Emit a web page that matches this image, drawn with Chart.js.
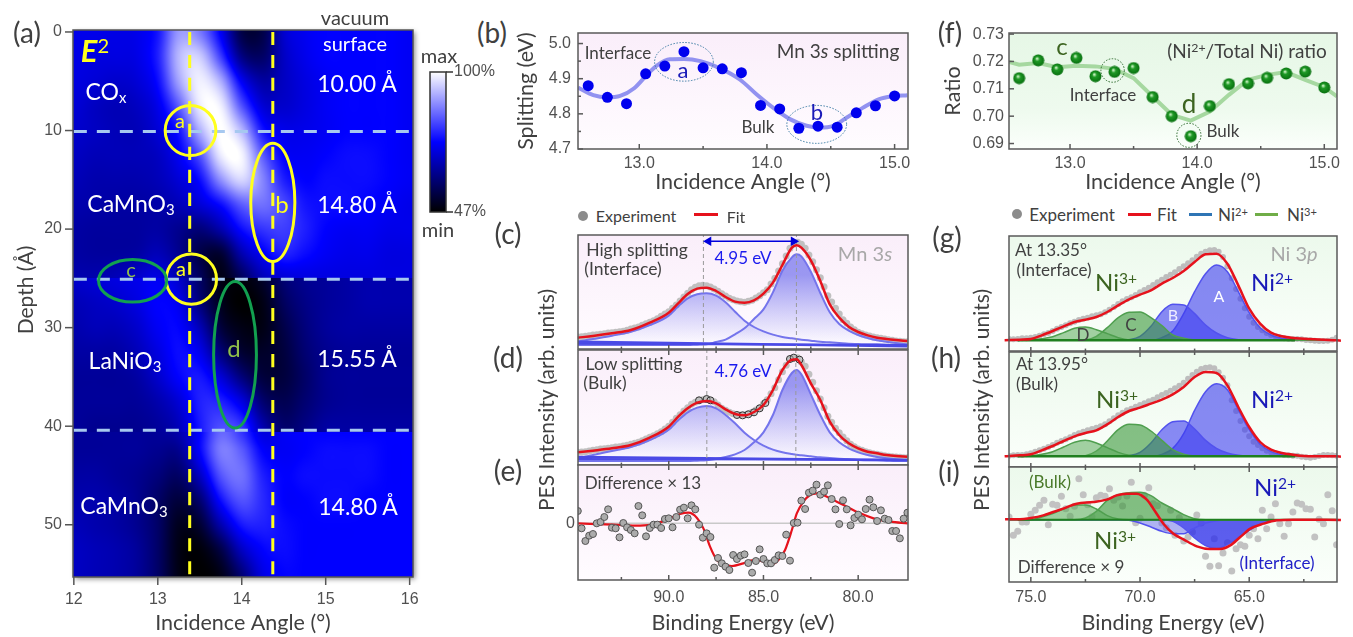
<!DOCTYPE html>
<html>
<head>
<meta charset="utf-8">
<title>E2 depth map and PES spectra</title>
<script src="https://cdn.jsdelivr.net/npm/chart.js@4"></script>
<style>
  html, body { margin: 0; background: #fff; }
  #stage { position: relative; width: 1353px; height: 637px; overflow: hidden; }
  #stage canvas { position: absolute; }
  .lbl { position: absolute; white-space: nowrap; line-height: 1; font-family: Lato, sans-serif; z-index: 5; }
  .lbl sup { font-size: .65em; vertical-align: .42em; line-height: 0; }
  .lbl sub { font-size: .65em; vertical-align: -.25em; line-height: 0; }
  .mark { position: absolute; z-index: 5; }
</style>
</head>
<body>
<div id="stage"></div>
<script>
// ---- panel (a), colour level 0 (black) .. 50 (blue) .. 100 (white) ----
var heatAngles = [12, 12.25, 12.5, 12.75, 13, 13.25, 13.5, 13.75, 14, 14.25, 14.5, 14.75, 15, 15.25, 15.5, 15.75, 16];
var depthsUpper = [0, 2.5, 5, 7.5, 10, 12.5, 15, 17.5, 20, 22.5, 25];
var heatUpper = [
  [46, 46, 45, 46, 54, 80, 74, 48, 14, 14, 40, 47, 50, 50, 50, 50, 48],
  [45, 44, 44, 45, 56, 86, 90, 62, 26, 20, 38, 46, 50, 50, 50, 50, 48],
  [44, 42, 40, 42, 52, 82, 97, 84, 48, 32, 38, 44, 48, 50, 50, 50, 48],
  [42, 38, 36, 38, 46, 68, 96, 97, 66, 42, 40, 44, 48, 50, 50, 50, 48],
  [40, 38, 36, 36, 42, 54, 84, 100, 86, 54, 46, 46, 48, 50, 50, 50, 48],
  [38, 36, 36, 36, 38, 48, 66, 96, 98, 68, 50, 48, 50, 52, 52, 50, 48],
  [36, 34, 34, 34, 36, 42, 52, 78, 92, 76, 56, 50, 52, 52, 52, 50, 48],
  [34, 33, 32, 32, 33, 36, 42, 52, 68, 72, 64, 54, 52, 52, 50, 48, 46],
  [32, 31, 31, 31, 32, 28, 24, 34, 52, 60, 62, 56, 50, 48, 48, 46, 46],
  [32, 31, 31, 32, 36, 28, 14, 10, 34, 48, 56, 52, 48, 46, 46, 44, 44],
  [34, 34, 36, 40, 44, 34, 18, 4, 18, 36, 42, 44, 44, 44, 44, 44, 44]
];
var depthsMiddle = [25, 27.5, 30, 32.5, 35, 37.5, 40.6];
var heatMiddle = [
  [40, 42, 44, 46, 48, 40, 20, 4, 2, 8, 22, 28, 30, 32, 34, 34, 34],
  [36, 38, 40, 44, 50, 46, 24, 6, 0, 4, 18, 26, 30, 32, 34, 34, 34],
  [34, 36, 36, 40, 48, 50, 36, 12, 4, 4, 14, 24, 30, 32, 32, 32, 32],
  [32, 32, 32, 36, 44, 52, 46, 24, 10, 8, 12, 22, 28, 30, 30, 30, 30],
  [30, 30, 30, 32, 40, 50, 54, 42, 24, 12, 12, 20, 28, 30, 30, 30, 30],
  [30, 30, 30, 30, 34, 42, 56, 56, 44, 22, 16, 22, 28, 30, 30, 30, 30],
  [30, 28, 28, 28, 30, 36, 54, 66, 62, 36, 22, 26, 32, 32, 32, 32, 32]
];
var depthsLower = [40.6, 42.5, 45, 47.5, 50, 52.5, 55.4];
var heatLower = [
  [30, 30, 30, 30, 30, 34, 50, 70, 60, 44, 48, 50, 50, 50, 50, 50, 50],
  [30, 30, 30, 30, 28, 28, 50, 74, 68, 50, 48, 50, 52, 52, 52, 50, 50],
  [32, 32, 30, 28, 24, 20, 38, 66, 72, 56, 50, 52, 52, 52, 52, 50, 50],
  [34, 34, 32, 28, 20, 12, 22, 52, 66, 58, 50, 50, 52, 52, 50, 50, 50],
  [36, 34, 32, 28, 20, 6, 10, 34, 54, 56, 52, 50, 50, 50, 50, 50, 50],
  [38, 36, 34, 30, 20, 4, 2, 14, 38, 50, 52, 50, 50, 50, 50, 50, 50],
  [38, 36, 34, 30, 20, 4, 0, 4, 22, 44, 50, 50, 50, 50, 50, 50, 50]
];
var guideAngles = [13.38, 14.37];
var layerDepths = [10.09, 25.1, 40.4];

// ---- panels (b) and (f) ----
var scanAngles = [12.6, 12.75, 12.9, 13.05, 13.2, 13.35, 13.5, 13.65, 13.8, 13.95, 14.1, 14.25, 14.4, 14.55, 14.7, 14.85, 15];
var mnSplitting = [4.88, 4.847, 4.829, 4.914, 4.936, 4.977, 4.931, 4.928, 4.917, 4.824, 4.814, 4.759, 4.765, 4.762, 4.803, 4.823, 4.851];
var mnFitAngles = [12.52, 12.64, 12.75, 12.85, 12.96, 13.06, 13.14, 13.24, 13.35, 13.48, 13.63, 13.79, 13.92, 14.05, 14.18, 14.31, 14.41, 14.52, 14.62, 14.75, 14.88, 14.99, 15.1];
var mnFit = [4.875, 4.853, 4.847, 4.851, 4.873, 4.911, 4.938, 4.955, 4.956, 4.95, 4.93, 4.897, 4.855, 4.817, 4.785, 4.766, 4.761, 4.766, 4.788, 4.817, 4.842, 4.85, 4.853];
var niRatio = [0.7139, 0.7204, 0.7171, 0.7213, 0.7146, 0.7162, 0.7176, 0.707, 0.7, 0.6927, 0.7037, 0.7117, 0.712, 0.714, 0.7156, 0.7163, 0.7105];
var niFitAngles = [12.52, 12.6, 12.75, 12.9, 13.05, 13.2, 13.35, 13.5, 13.65, 13.8, 13.95, 14.1, 14.25, 14.4, 14.55, 14.7, 14.85, 15, 15.1];
var niFit = [0.7198, 0.7188, 0.7194, 0.7179, 0.7184, 0.7182, 0.7173, 0.7139, 0.7072, 0.7005, 0.6984, 0.7017, 0.7078, 0.7133, 0.7151, 0.7161, 0.7133, 0.7106, 0.7072];

// ---- Mn 3s spectra (c), (d), (e) ----
var mnE = [94.8, 94, 93, 92, 91, 90, 89.5, 89, 88.5, 88, 87.5, 87, 86.5, 86, 85.5, 85, 84.5, 84, 83.5, 83.25, 83, 82.5, 82, 81.5, 81, 80.5, 80, 79.5, 79, 78.5, 78, 77.4];
var cFit = [34, 39, 47, 57, 79, 109, 137, 165, 181, 184, 174, 156, 142, 139, 146, 166, 199, 252, 304, 311, 304, 266, 204, 134, 94, 67, 51, 41, 34, 30, 27, 24];
var cLow = [22, 30, 40, 52, 72, 100, 128, 152, 164, 167, 160, 140, 112, 85, 66, 53, 43, 36, 32, 30, 28, 25, 22, 20, 18, 16, 15, 14, 14, 13, 13, 12];
var cHigh = [12, 12, 12, 12, 12, 12, 12, 12, 13, 14, 21, 28, 44, 62, 90, 119, 170, 235, 275, 284, 278, 232, 168, 110, 75, 55, 42, 33, 26, 22, 18, 14];
var dFit = [38, 43, 50, 60, 82, 115, 145, 170, 187, 192, 185, 167, 153, 149, 159, 180, 225, 285, 316, 317, 300, 245, 195, 130, 90, 65, 50, 40, 35, 30, 27, 25];
var dLow = [20, 30, 42, 54, 75, 106, 134, 158, 172, 177, 170, 150, 125, 97, 75, 58, 46, 38, 33, 31, 29, 26, 23, 21, 19, 17, 15, 14, 14, 13, 12, 12];
var dHigh = [12, 12, 12, 12, 12, 12, 12, 12, 13, 14, 18, 24, 32, 45, 68, 98, 150, 225, 276, 285, 272, 212, 150, 98, 68, 50, 38, 30, 24, 20, 17, 14];
var bgE = [94.8, 77.4];
var cBack1 = [22, 8];
var cBack2 = [16, 12];
var dBack1 = [24, 14];
var dBack2 = [18, 16];
var expE = [94.8, 94.6, 94.4, 94.2, 94, 93.8, 93.6, 93.4, 93.2, 93, 92.8, 92.6, 92.4, 92.2, 92, 91.8, 91.6, 91.4, 91.2, 91, 90.8, 90.6, 90.4, 90.2, 90, 89.8, 89.6, 89.4, 89.2, 89, 88.8, 88.6, 88.4, 88.2, 88, 87.8, 87.6, 87.4, 87.2, 87, 86.8, 86.6, 86.4, 86.2, 86, 85.8, 85.6, 85.4, 85.2, 85, 84.8, 84.6, 84.4, 84.2, 84, 83.8, 83.6, 83.4, 83.2, 83, 82.8, 82.6, 82.4, 82.2, 82, 81.8, 81.6, 81.4, 81.2, 81, 80.8, 80.6, 80.4, 80.2, 80, 79.8, 79.6, 79.4, 79.2, 79, 78.8, 78.6, 78.4, 78.2, 78, 77.8, 77.6, 77.4];
var cExp = [36, 37, 38, 40, 42, 43, 44, 46, 48, 49, 50, 52, 53, 56, 60, 63, 66, 71, 76, 80, 85, 91, 98, 105, 112, 122, 132, 144, 156, 167, 178, 185, 190, 191, 190, 186, 180, 173, 166, 159, 152, 148, 144, 142, 140, 143, 146, 153, 160, 169, 178, 195, 212, 234, 256, 279, 302, 314, 320, 314, 302, 282, 262, 238, 214, 187, 160, 141, 122, 105, 88, 77, 66, 58, 50, 46, 42, 39, 36, 34, 32, 30, 28, 26, 24, 23, 22, 22];
var dExp = [38, 39, 40, 42, 44, 46, 48, 49, 50, 52, 54, 55, 57, 59, 62, 65, 68, 73, 78, 83, 88, 94, 100, 108, 116, 128, 140, 151, 162, 172, 182, 188, 194, 196, 198, 194, 190, 180, 170, 164, 158, 154, 150, 150, 150, 154, 158, 165, 172, 184, 196, 214, 232, 256, 280, 299, 318, 320, 322, 309, 296, 272, 248, 223, 198, 172, 146, 128, 110, 97, 84, 73, 62, 55, 48, 44, 40, 37, 34, 32, 30, 28, 26, 25, 24, 23, 22, 22];
var dRingE = [88.4, 88, 87.8, 86.4, 86.1, 85.8, 85.5, 85.2, 84.9, 83.6, 83.4, 83.1];
var dRing = [194, 198, 194, 150, 149, 152, 158, 170, 186, 318, 322, 316];
var cPeaks = [88.17, 83.26];
var dPeaks = [87.99, 83.29];
var splitArrowE = [87.9, 83.41];
var diffMn = [37, -15, -53, -37, -32, 0, 4, 19, 42, -13, -15, -42, 1, -12, -20, -30, 52, 24, -39, -14, -4, -4, -14, 13, 15, -12, 19, 41, 47, 15, 54, 42, -4, -43, -30, -41, -133, -104, -120, -130, -140, -95, -107, -97, -93, -119, -148, -113, -78, -107, -120, -120, -110, -96, -98, -34, -112, 1, 2, 68, 43, 92, 98, 116, 86, 95, 114, 73, 42, -2, 69, 42, -6, 16, 26, 12, 43, 71, 48, 7, 39, 14, 10, -23, -23, -45, 14, 32];
var diffMnFitE = [94.81, 92.92, 91.51, 90.63, 89.93, 89.4, 88.96, 88.52, 88.17, 87.82, 87.46, 87.11, 86.67, 86.06, 85.53, 85, 84.56, 84.21, 83.86, 83.5, 83.24, 82.89, 82.54, 82.18, 81.65, 81.13, 80.6, 79.89, 79.19, 78.31, 77.39];
var diffMnFit = [0, -4, -7, 0, 15, 28, 32, 17, -15, -70, -110, -122, -128, -120, -110, -115, -123, -110, -80, -20, 30, 65, 85, 90, 80, 65, 50, 30, 15, 5, 0];

// ---- Ni 3p spectra (g), (h), (i) ----
var niE = [76.2, 75.5, 75, 74.5, 74, 73.5, 73, 72.5, 72, 71.5, 71, 70.5, 70, 69.5, 69, 68.5, 68, 67.5, 67, 66.5, 66, 65.5, 65, 64.5, 64, 63.5, 63, 62.5, 62, 61, 60.8];
var gFit = [32, 34, 36, 47, 60, 74, 87, 94, 102, 117, 137, 155, 169, 182, 202, 219, 240, 267, 290, 292, 262, 197, 127, 82, 55, 44, 39, 37, 35, 32, 31];
var gA = [32, 32, 32, 32, 32, 32, 32, 32, 32, 32, 32, 32, 32, 32, 40, 60, 112, 178, 232, 258, 238, 178, 115, 70, 48, 38, 34, 32, 32, 32, 32];
var gB = [32, 32, 32, 32, 32, 32, 32, 32, 32, 32, 32, 34, 44, 74, 118, 140, 138, 112, 78, 54, 40, 34, 32, 32, 32, 32, 32, 32, 32, 32, 32];
var gC = [32, 32, 32, 32, 32, 32, 32, 33, 44, 70, 100, 116, 117, 100, 76, 48, 38, 33, 32, 32, 32, 32, 32, 32, 32, 32, 32, 32, 32, 32, 32];
var gD = [32, 32, 33, 37, 43, 55, 68, 72, 64, 52, 40, 33, 32, 32, 32, 32, 32, 32, 32, 32, 32, 32, 32, 32, 32, 32, 32, 32, 32, 32, 32];
var hFit = [32, 35, 38, 50, 63, 78, 92, 102, 110, 128, 150, 168, 178, 190, 202, 218, 240, 270, 285, 282, 245, 180, 120, 75, 52, 42, 37, 33, 32, 32, 31];
var hA = [32, 32, 32, 32, 32, 32, 32, 32, 32, 32, 32, 32, 32, 32, 38, 56, 100, 170, 226, 250, 232, 172, 112, 68, 46, 37, 33, 32, 32, 32, 32];
var hB = [32, 32, 32, 32, 32, 32, 32, 32, 32, 32, 32, 34, 44, 72, 112, 136, 138, 114, 80, 56, 42, 35, 32, 32, 32, 32, 32, 32, 32, 32, 32];
var hC = [32, 32, 32, 32, 32, 32, 32, 34, 48, 78, 112, 128, 126, 108, 80, 52, 38, 33, 32, 32, 32, 32, 32, 32, 32, 32, 32, 32, 32, 32, 32];
var hD = [32, 32, 33, 38, 46, 60, 74, 80, 72, 58, 44, 35, 32, 32, 32, 32, 32, 32, 32, 32, 32, 32, 32, 32, 32, 32, 32, 32, 32, 32, 32];
var iA = [0, 0, 0, 0, 0, 0, 0, 0, 0, 0, 0, 0, 0, 0, 0, -5, -25, -55, -78, -87, -75, -55, -32, -14, -5, 0, 0, 0, 0, 0, 0];
var iB = [0, 0, 0, 0, 0, 0, 0, 0, 0, 0, 0, -2, -10, -22, -35, -42, -42, -25, -10, -3, 0, 0, 0, 0, 0, 0, 0, 0, 0, 0, 0];
var iC = [0, 0, 0, 0, 0, 0, 0, 5, 25, 58, 75, 81, 82, 72, 50, 33, 15, 3, 0, 0, 0, 0, 0, 0, 0, 0, 0, 0, 0, 0, 0];
var iD = [0, 0, 0, 8, 18, 32, 44, 44, 32, 12, 2, 0, 0, 0, 0, 0, 0, 0, 0, 0, 0, 0, 0, 0, 0, 0, 0, 0, 0, 0, 0];
var niExpE = [76, 75.8, 75.6, 75.4, 75.2, 75, 74.8, 74.6, 74.4, 74.2, 74, 73.8, 73.6, 73.4, 73.2, 73, 72.8, 72.6, 72.4, 72.2, 72, 71.8, 71.6, 71.4, 71.2, 71, 70.8, 70.6, 70.4, 70.2, 70, 69.8, 69.6, 69.4, 69.2, 69, 68.8, 68.6, 68.4, 68.2, 68, 67.8, 67.6, 67.4, 67.2, 67, 66.8, 66.6, 66.4, 66.2, 66, 65.8, 65.6, 65.4, 65.2, 65, 64.8, 64.6, 64.4, 64.2, 64, 63.8, 63.6, 63.4, 63.2, 63, 62.8, 62.6, 62.4, 62.2, 62, 61.8, 61.6, 61.4, 61.2, 61];
var gExp = [36, 35, 36, 38, 38, 40, 42, 46, 50, 54, 60, 67, 72, 77, 83, 88, 93, 97, 100, 104, 107, 110, 116, 124, 132, 141, 149, 156, 161, 168, 176, 183, 190, 198, 206, 214, 222, 229, 236, 246, 254, 263, 272, 283, 292, 298, 302, 303, 298, 282, 254, 218, 186, 157, 128, 103, 85, 72, 62, 54, 48, 44, 41, 38, 37, 36, 36, 35, 33, 32, 31, 30, 30, 31, 34, 40];
var hExp = [34, 35, 36, 36, 38, 41, 46, 50, 55, 60, 66, 73, 78, 83, 89, 96, 101, 106, 110, 114, 118, 122, 128, 137, 146, 155, 163, 170, 175, 181, 186, 191, 197, 202, 209, 216, 222, 229, 236, 244, 253, 265, 276, 286, 294, 298, 299, 296, 284, 268, 245, 200, 168, 138, 112, 92, 76, 66, 56, 49, 44, 41, 38, 36, 35, 34, 34, 31, 29, 28, 30, 33, 36, 36, 35, 34];
var diffNi = [8, -47, -35, -7, -7, 16, 28, 43, 58, -15, 46, 43, 70, 33, 10, 40, 123, 75, 45, 9, 66, 73, 70, 93, 58, 68, 41, 71, 112, -9, 4, 73, 96, 48, 42, -10, -24, 28, -47, 6, -64, -52, -37, 14, -10, -110, -140, -57, -138, -100, -69, -154, -87, -75, -80, -47, -27, -57, 28, -27, 8, 48, -12, -50, -12, 23, 50, 46, 33, 31, -52, 1, -12, 75, 27, -75];
var diffNiFitE = [76.18, 75.5, 75, 74.43, 73.98, 73.52, 72.9, 72.14, 71.53, 71.07, 70.61, 70.15, 69.69, 69.39, 68.93, 68.47, 68.01, 67.4, 66.79, 66.33, 65.87, 65.41, 64.95, 64.34, 63.73, 62.97, 60.8];
var diffNiFit = [1, 1, 5, 13, 23, 33, 48, 53, 60, 73, 78, 78, 60, 33, -12, -42, -59, -80, -88, -88, -77, -52, -27, -12, -2, 0, -1];

// ---- tick labels ----
var mapAngleTicks = [12, 13, 14, 15, 16];
var mapDepthTicks = [0, 10, 20, 30, 40, 50];
var colorbarTicks = [47, 100];
var angleTicks = [13, 14, 15];
var angleMinor = [13.5, 14.5];
var splitTicks = [4.7, 4.8, 4.9, 5];
var splitMinor = [4.75, 4.85, 4.95];
var ratioTicks = [0.69, 0.7, 0.71, 0.72, 0.73];
var mnTicks = [90, 85, 80];
var mnMinor = [92.5, 87.5, 82.5];
var niTicks = [75, 70, 65];
var niMinor = [72.5, 67.5, 62.5];

var stage = document.getElementById('stage');
var TEXT = '#404040';
var TICK_FONT = { family: '"Liberation Sans", sans-serif', size: 16 };
var TITLE_FONT = { family: 'Lato, sans-serif', size: 21.5 };
var PINK = [[0, '#faeefa'], [1, '#fffcff']];
var MINT = [[0, '#e6f7e6'], [0.65, '#eefaee'], [1, '#fbfffb']];
var MINT_SOFT = [[0, '#ecf9ec'], [1, '#fbfffb']];

function xy(xs, ys) {
  return xs.map(function (x, i) { return { x: x, y: ys[i] }; });
}
function vline(x, y0, y1) {
  return [{ x: x, y: y0 }, { x: x, y: y1 }];
}
function hline(y, x0, x1) {
  return [{ x: x0, y: y }, { x: x1, y: y }];
}

function decor(cfg) {
  return {
    id: 'decor',
    beforeDatasetsDraw: function (chart) {
      var c = chart.ctx, a = chart.chartArea;
      if (cfg.stops) {
        var g = c.createLinearGradient(0, a.top, 0, a.bottom);
        cfg.stops.forEach(function (s) { g.addColorStop(s[0], s[1]); });
        c.fillStyle = g;
        c.fillRect(a.left, a.top, a.right - a.left, a.bottom - a.top);
      }
      if (cfg.paint) cfg.paint(chart);
    },
    afterDatasetsDraw: function (chart) {
      var c = chart.ctx, a = chart.chartArea, sx = chart.scales.x, sy = chart.scales.y;
      (cfg.ellipses || []).forEach(function (e) {
        var cx = sx.getPixelForValue(e.x), cy = sy.getPixelForValue(e.y);
        var rx = Math.abs(sx.getPixelForValue(e.x + e.rx) - cx);
        var ry = Math.abs(sy.getPixelForValue(e.y + e.ry) - cy);
        c.save();
        c.beginPath();
        c.ellipse(cx, cy, rx, ry, 0, 0, Math.PI * 2);
        c.strokeStyle = e.color;
        c.lineWidth = e.width;
        c.setLineDash(e.dash || []);
        c.stroke();
        c.restore();
      });
      c.save();
      c.strokeStyle = cfg.frame || '#595959';
      c.lineWidth = 1.5;
      c.strokeRect(a.left, a.top, a.right - a.left, a.bottom - a.top);
      (cfg.ticks || []).forEach(function (t) {
        var scale = (t.edge === 'left' || t.edge === 'right') ? sy : sx;
        var draw = function (v, len) {
          var p = scale.getPixelForValue(v);
          c.beginPath();
          if (t.edge === 'bottom') { c.moveTo(p, a.bottom); c.lineTo(p, a.bottom + len); }
          if (t.edge === 'top') { c.moveTo(p, a.top); c.lineTo(p, a.top + len); }
          if (t.edge === 'left') { c.moveTo(a.left, p); c.lineTo(a.left + len, p); }
          if (t.edge === 'right') { c.moveTo(a.right, p); c.lineTo(a.right + len, p); }
          c.stroke();
        };
        t.major.forEach(function (v) { draw(v, t.len); });
        (t.minor || []).forEach(function (v) { draw(v, t.len * 0.6); });
      });
      c.restore();
    }
  };
}

function axis(o, isX, size) {
  var s = {
    type: 'linear',
    min: o.min,
    max: o.max,
    reverse: !!o.reverse,
    display: !!o.ticks,
    position: o.position || (isX ? 'bottom' : 'left'),
    grid: { display: false, drawTicks: false },
    border: { display: false }
  };
  if (o.ticks) {
    s.afterBuildTicks = function (scale) {
      scale.ticks = o.ticks.map(function (v) { return { value: v }; });
    };
    s.afterFit = function (scale) {
      if (isX) scale.height = size; else scale.width = size;
      // tick labels may hang over the plot, the plot rectangle stays put
      scale.paddingLeft = scale.paddingRight = scale.paddingTop = scale.paddingBottom = 0;
    };
    s.ticks = {
      color: '#505050',
      font: TICK_FONT,
      padding: o.pad,
      autoSkip: false,
      maxRotation: 0,
      callback: o.fmt
    };
    if (o.title) {
      s.title = { display: true, text: o.title, color: TEXT, font: TITLE_FONT, padding: 0 };
    }
  }
  return s;
}

// plot = plot rectangle on the page, m = room around it for axes
function panel(plot, m, x, y, datasets, cfg) {
  var cv = document.createElement('canvas');
  var w = plot.r - plot.l + m.l + m.r, h = plot.b - plot.t + m.t + m.b;
  cv.width = w;
  cv.height = h;
  cv.style.left = (plot.l - m.l) + 'px';
  cv.style.top = (plot.t - m.t) + 'px';
  stage.appendChild(cv);
  var yRight = y.position === 'right';
  return new Chart(cv.getContext('2d'), {
    type: 'line',
    data: { datasets: datasets },
    plugins: [decor(cfg)],
    options: {
      responsive: false,
      animation: false,
      events: [],
      layout: {
        autoPadding: false,
        padding: {
          left: y.ticks && !yRight ? 0 : m.l,
          right: yRight ? 0 : m.r,
          top: m.t,
          bottom: x.ticks ? 0 : m.b
        }
      },
      elements: { line: { tension: 0 } },
      plugins: { legend: { display: false }, tooltip: { enabled: false } },
      scales: {
        x: axis(x, true, m.b),
        y: axis(y, false, yRight ? m.r : m.l)
      }
    }
  });
}

function curve(data, color, width, extra) {
  return Object.assign({
    data: data, borderColor: color, borderWidth: width, pointRadius: 0,
    fill: false, cubicInterpolationMode: 'monotone'
  }, extra || {});
}
function dots(data, fill, radius, border, borderW) {
  return {
    data: data, showLine: false, pointRadius: radius, pointBackgroundColor: fill,
    pointBorderColor: border || fill, pointBorderWidth: borderW || 0
  };
}

// ---- heat map sampling ----
function locate(arr, v) {
  var i = 0;
  while (i < arr.length - 2 && v > arr[i + 1]) i++;
  var t = (v - arr[i]) / (arr[i + 1] - arr[i]);
  return { i: i, t: Math.max(0, Math.min(1, t)) };
}
function cubic(a, b, c, d, t) {
  return b + 0.5 * t * (c - a + t * (2 * a - 5 * b + 4 * c - d + t * (3 * (b - c) + d - a)));
}
function heatColor(v) {
  v = Math.max(0, Math.min(100, v));
  if (v < 50) return [0, 0, v * 5.1];
  return [(v - 50) * 5.1, (v - 50) * 5.1, 255];
}
function paintHeat(chart) {
  var a = chart.chartArea, sx = chart.scales.x, sy = chart.scales.y;
  var w = Math.round(a.right - a.left), h = Math.round(a.bottom - a.top);
  var off = document.createElement('canvas');
  off.width = w;
  off.height = h;
  var oc = off.getContext('2d'), img = oc.createImageData(w, h);
  var cols = [];
  for (var px = 0; px < w; px++) cols.push(locate(heatAngles, sx.getValueForPixel(a.left + px + 0.5)));
  for (var py = 0; py < h; py++) {
    var d = sy.getValueForPixel(a.top + py + 0.5);
    var depths = d < 25 ? depthsUpper : d < 40.6 ? depthsMiddle : depthsLower;
    var rows = d < 25 ? heatUpper : d < 40.6 ? heatMiddle : heatLower;
    var r = locate(depths, d);
    for (px = 0; px < w; px++) {
      var col = cols[px], stack = [];
      for (var k = -1; k <= 2; k++) {
        var row = rows[Math.max(0, Math.min(rows.length - 1, r.i + k))];
        var last = row.length - 1;
        stack.push(cubic(row[Math.max(0, col.i - 1)], row[col.i], row[Math.min(last, col.i + 1)], row[Math.min(last, col.i + 2)], col.t));
      }
      var rgb = heatColor(cubic(stack[0], stack[1], stack[2], stack[3], r.t));
      var n = (py * w + px) * 4;
      img.data[n] = rgb[0];
      img.data[n + 1] = rgb[1];
      img.data[n + 2] = rgb[2];
      img.data[n + 3] = 255;
    }
  }
  oc.putImageData(img, 0, 0);
  var c = chart.ctx;
  c.save();
  c.shadowColor = 'rgba(0,0,0,0.45)';
  c.shadowBlur = 5;
  c.shadowOffsetX = 2;
  c.shadowOffsetY = 2;
  c.fillStyle = '#000';
  c.fillRect(a.left, a.top, w, h);
  c.restore();
  c.drawImage(off, a.left, a.top);
}

// ---- (a) ----
var yellow = '#ffff1e', pale = '#a6c8f0';
var mapSets = [];
guideAngles.forEach(function (v) {
  mapSets.push(curve(vline(v, 0, 55.3), yellow, 3, { borderDash: [13, 10] }));
});
layerDepths.forEach(function (v) {
  mapSets.push(curve(hline(v, 12, 16.04), pale, 3, { borderDash: [13, 10] }));
});
panel({ l: 73, r: 413, t: 30, b: 577 }, { l: 43, r: 14, t: 14, b: 59 },
  { min: 11.99, max: 16.04, ticks: mapAngleTicks, pad: 13, fmt: String, title: 'Incidence Angle (°)' },
  { min: -0.2, max: 55.3, reverse: true, ticks: mapDepthTicks, pad: 11, fmt: String },
  mapSets,
  {
    paint: paintHeat,
    frame: '#555',
    ticks: [{ edge: 'left', major: mapDepthTicks, len: -8 }, { edge: 'bottom', major: mapAngleTicks, len: 8 }],
    ellipses: [
      { x: 13.39, y: 10, rx: 0.302, ry: 2.54, color: yellow, width: 3 },
      { x: 13.4, y: 25.08, rx: 0.3, ry: 2.54, color: yellow, width: 3 },
      { x: 14.37, y: 17.3, rx: 0.2625, ry: 6, color: yellow, width: 3 },
      { x: 12.7, y: 25.25, rx: 0.406, ry: 2.16, color: '#12a050', width: 3 },
      { x: 13.92, y: 32.76, rx: 0.255, ry: 7.43, color: '#12a050', width: 3 }
    ]
  });

// colour bar
panel({ l: 430, r: 446, t: 72, b: 212 }, { l: 2, r: 62, t: 10, b: 10 },
  { min: 0, max: 1 },
  { min: 47, max: 100, ticks: colorbarTicks, pad: 8, position: 'right', fmt: function (v) { return v + '%'; } },
  [],
  {
    stops: [[0, '#ffffff'], [0.5, '#0000ff'], [1, '#000000']],
    frame: '#333',
    ticks: [{ edge: 'right', major: colorbarTicks, len: 7 }]
  });

// ---- (b) ----
var mnBlue = '#0000ee';
panel({ l: 578, r: 908, t: 33, b: 149 }, { l: 65, r: 14, t: 12, b: 46 },
  { min: 12.52, max: 15.105, ticks: angleTicks, pad: 5, fmt: function (v) { return v.toFixed(1); }, title: 'Incidence Angle (°)' },
  { min: 4.7, max: 5.03, ticks: splitTicks, pad: 7, fmt: function (v) { return v.toFixed(1); }, title: 'Splitting (eV)' },
  [
    dots(xy(scanAngles, mnSplitting), mnBlue, 5.5),
    curve(xy(mnFitAngles, mnFit), '#9292f0', 4)
  ],
  {
    stops: PINK,
    ticks: [
      { edge: 'bottom', major: angleTicks, minor: angleMinor, len: -5 },
      { edge: 'left', major: splitTicks, minor: splitMinor, len: 5 }
    ],
    ellipses: [
      { x: 13.35, y: 4.948, rx: 0.23, ry: 0.055, color: '#3f7ea6', width: 1, dash: [1.5, 1.5] },
      { x: 14.39, y: 4.77, rx: 0.234, ry: 0.054, color: '#3f7ea6', width: 1, dash: [1.5, 1.5] }
    ]
  });

// ---- (f) ----
function sphereMarker() {
  var s = document.createElement('canvas');
  s.width = 13;
  s.height = 13;
  var c = s.getContext('2d');
  var g = c.createRadialGradient(5.2, 4.6, 0.5, 6.5, 6.5, 6.5);
  g.addColorStop(0, '#c8f0c0');
  g.addColorStop(0.3, '#1f9a26');
  g.addColorStop(1, '#056b0c');
  c.fillStyle = g;
  c.beginPath();
  c.arc(6.5, 6.5, 6, 0, Math.PI * 2);
  c.fill();
  return s;
}
panel({ l: 1009, r: 1337, t: 33, b: 149 }, { l: 69, r: 14, t: 12, b: 46 },
  { min: 12.52, max: 15.1, ticks: angleTicks, pad: 5, fmt: function (v) { return v.toFixed(1); }, title: 'Incidence Angle (°)' },
  { min: 0.688, max: 0.7304, ticks: ratioTicks, pad: 5, fmt: function (v) { return v.toFixed(2); }, title: 'Ratio' },
  [
    { data: xy(scanAngles, niRatio), showLine: false, pointStyle: sphereMarker(), pointRadius: 6 },
    curve(xy(niFitAngles, niFit), '#a6d8a0', 4, { cubicInterpolationMode: 'default' })
  ],
  {
    stops: MINT,
    ticks: [
      { edge: 'bottom', major: angleTicks, minor: angleMinor, len: -5 },
      { edge: 'left', major: ratioTicks, len: 5 }
    ],
    ellipses: [
      { x: 13.335, y: 0.7167, rx: 0.092, ry: 0.0043, color: '#2f6b2f', width: 1, dash: [1.5, 1.5] },
      { x: 13.935, y: 0.693, rx: 0.095, ry: 0.0044, color: '#2f6b2f', width: 1, dash: [1.5, 1.5] }
    ]
  });

// ---- Mn 3s spectra ----
function fadeFill(top, bottom) {
  var c = document.createElement('canvas').getContext('2d');
  var g = c.createLinearGradient(0, top, 0, bottom);
  g.addColorStop(0, 'rgba(95,95,235,0.62)');
  g.addColorStop(1, 'rgba(120,120,240,0.02)');
  return g;
}
var red = '#e6121c', peakLine = '#7474ec', baseLine = '#4a4ae6';
var fadeC = fadeFill(4 + 40, 4 + 108), fadeD = fadeFill(4 + 36, 4 + 110);
var dashGray = { borderDash: [4, 3], cubicInterpolationMode: 'default' };

panel({ l: 578, r: 908, t: 235, b: 349 }, { l: 4, r: 4, t: 4, b: 4 },
  { min: 77.37, max: 94.79, reverse: true }, { min: 0, max: 342 },
  [
    { data: xy(splitArrowE, [323, 323]), borderColor: '#0000dd', borderWidth: 1.5, pointStyle: 'triangle', pointRotation: [-90, 90], pointRadius: 4, pointBackgroundColor: '#0000dd', pointBorderColor: '#0000dd' },
    curve(xy(mnE, cFit), red, 2.5, { clip: false }),
    curve(vline(cPeaks[0], 0, 342), '#999', 1, dashGray),
    curve(vline(cPeaks[1], 0, 342), '#999', 1, dashGray),
    curve(xy(bgE, cBack1), baseLine, 2.5),
    curve(xy(bgE, cBack2), baseLine, 2),
    curve(xy(mnE, cHigh), peakLine, 2, { fill: { value: 12 }, backgroundColor: fadeC }),
    curve(xy(mnE, cLow), peakLine, 2, { fill: { value: 12 }, backgroundColor: fadeC }),
    dots(xy(expE, cExp), '#c0c0c0', 3.5)
  ],
  { stops: PINK, ticks: [{ edge: 'bottom', major: mnTicks, minor: mnMinor, len: -4 }] });

panel({ l: 578, r: 908, t: 350, b: 465 }, { l: 4, r: 4, t: 4, b: 4 },
  { min: 77.37, max: 94.79, reverse: true }, { min: 0, max: 345 },
  [
    curve(xy(mnE, dFit), red, 2.5, { clip: false }),
    dots(xy(dRingE, dRing), 'rgba(190,190,190,0.4)', 3.5, '#333', 1),
    curve(vline(dPeaks[0], 0, 345), '#999', 1, dashGray),
    curve(vline(dPeaks[1], 0, 345), '#999', 1, dashGray),
    curve(xy(bgE, dBack1), baseLine, 2.5),
    curve(xy(bgE, dBack2), baseLine, 2),
    curve(xy(mnE, dHigh), peakLine, 2, { fill: { value: 12 }, backgroundColor: fadeD }),
    curve(xy(mnE, dLow), peakLine, 2, { fill: { value: 12 }, backgroundColor: fadeD }),
    dots(xy(expE, dExp), '#c0c0c0', 3.5)
  ],
  { stops: PINK, ticks: [
    { edge: 'top', major: mnTicks, minor: mnMinor, len: 5 },
    { edge: 'bottom', major: mnTicks, minor: mnMinor, len: -4 }
  ] });

panel({ l: 578, r: 908, t: 465, b: 580 }, { l: 30, r: 8, t: 4, b: 56 },
  { min: 77.37, max: 94.79, reverse: true, ticks: mnTicks, pad: 8, fmt: function (v) { return v.toFixed(1); }, title: 'Binding Energy (eV)' },
  { min: -170, max: 175, ticks: [0], pad: 3, fmt: String },
  [
    dots(xy(expE, diffMn), '#ababab', 3.5, '#555', 1),
    curve(xy(diffMnFitE, diffMnFit), red, 2.2),
    curve(hline(0, 77.37, 94.79), '#c9c9c9', 1.5)
  ],
  { stops: PINK, ticks: [
    { edge: 'top', major: mnTicks, minor: mnMinor, len: 5 },
    { edge: 'bottom', major: mnTicks, minor: mnMinor, len: -5 }
  ] });

// ---- Ni 3p spectra ----
var niBlue = 'rgba(60,60,240,0.6)', niBlueLine = '#5252ee';
var niGreen = 'rgba(55,150,55,0.6)', niPale = 'rgba(90,170,90,0.55)', niGreenLine = '#4f9f4f';
function niSets(fit, A, B, C, D, expData) {
  return [
    curve(xy(niE, fit), red, 2.5, { clip: false }),
    curve(hline(32, 75.6, 62.9), '#1f7f1f', 2.5),
    curve(xy(niE, D), niGreenLine, 1.5, { fill: { value: 32 }, backgroundColor: niPale }),
    curve(xy(niE, C), niGreenLine, 1.5, { fill: { value: 32 }, backgroundColor: niGreen }),
    curve(xy(niE, B), niBlueLine, 1.5, { fill: { value: 32 }, backgroundColor: niBlue }),
    curve(xy(niE, A), niBlueLine, 1.5, { fill: { value: 32 }, backgroundColor: niBlue }),
    dots(xy(niExpE, expData), '#bdbdbd', 3)
  ];
}
panel({ l: 1009, r: 1337, t: 236, b: 351 }, { l: 6, r: 8, t: 4, b: 4 },
  { min: 60.98, max: 76, reverse: true }, { min: 0, max: 345 },
  niSets(gFit, gA, gB, gC, gD, gExp),
  { stops: MINT_SOFT, ticks: [{ edge: 'bottom', major: niTicks, minor: niMinor, len: -4 }] });
panel({ l: 1009, r: 1337, t: 352, b: 467 }, { l: 6, r: 8, t: 4, b: 4 },
  { min: 60.98, max: 76, reverse: true }, { min: 0, max: 345 },
  niSets(hFit, hA, hB, hC, hD, hExp),
  { stops: MINT_SOFT, ticks: [
    { edge: 'top', major: niTicks, minor: niMinor, len: 5 },
    { edge: 'bottom', major: niTicks, minor: niMinor, len: -4 }
  ] });
panel({ l: 1009, r: 1337, t: 467, b: 582 }, { l: 8, r: 8, t: 4, b: 54 },
  { min: 60.98, max: 76, reverse: true, ticks: niTicks, pad: 6, fmt: function (v) { return v.toFixed(1); }, title: 'Binding Energy (eV)' },
  { min: -187, max: 158, ticks: [], pad: 0, fmt: String },
  [
    curve(xy(diffNiFitE, diffNiFit), red, 2.5, { clip: false }),
    curve(hline(0, 75.6, 61), '#1f7f1f', 2),
    curve(xy(niE, iD), niGreenLine, 1.5, { fill: { value: 0 }, backgroundColor: niPale }),
    curve(xy(niE, iC), niGreenLine, 1.5, { fill: { value: 0 }, backgroundColor: niGreen }),
    curve(xy(niE, iB), niBlueLine, 1.5, { fill: { value: 0 }, backgroundColor: 'rgba(90,90,240,0.45)' }),
    curve(xy(niE, iA), niBlueLine, 1.5, { fill: { value: 0 }, backgroundColor: 'rgba(40,40,235,0.75)' }),
    dots(xy(niExpE, diffNi), '#c2c2c2', 3.5)
  ],
  { stops: MINT_SOFT, ticks: [
    { edge: 'top', major: niTicks, minor: niMinor, len: 5 },
    { edge: 'bottom', major: niTicks, minor: niMinor, len: -5 }
  ] });

// ---- text on top of the plots: [html, centre x, centre y, size, colour, rotation] ----
var NAVY = '#1a1ab8', DGREEN = '#3c6420';
var texts = [
  ['(a)', 27, 32, 28], ['(b)', 492, 32, 28], ['(c)', 508, 233, 28], ['(d)', 508, 357, 28], ['(e)', 508, 470, 28],
  ['(f)', 950, 32, 28], ['(g)', 947, 237, 28], ['(h)', 946, 357, 28], ['(i)', 949, 471, 28],
  ['Depth (Å)', 24, 290, 21, TEXT, -90],
  ['vacuum', 355, 17, 20], ['surface', 355, 43, 20, '#fff'],
  ['10.00 Å', 357, 83, 23, '#fff'], ['14.80 Å', 357, 204, 23, '#fff'], ['15.55 Å', 357, 358, 23, '#fff'], ['14.80 Å', 358, 506, 23, '#fff'],
  ['CO<sub>x</sub>', 106, 91, 23, '#fff'], ['CaMnO<sub>3</sub>', 131, 203, 23, '#fff'], ['LaNiO<sub>3</sub>', 125, 360, 23, '#fff'], ['CaMnO<sub>3</sub>', 124, 505, 23, '#fff'],
  ['<b><i>E</i></b><sup>2</sup>', 95, 50, 31, '#ffff1e'],
  ['a', 180, 120, 20, '#ffff1e'], ['a', 181, 268, 20, '#ffff1e'], ['b', 282, 204, 24, '#ffff1e'],
  ['c', 131, 269, 20, '#8fc04a'], ['d', 234, 348, 24, '#8fbf4a'],
  ['max', 439, 55, 20], ['min', 438, 229, 20],
  ['Interface', 618, 52, 17], ['Mn 3<i>s</i> splitting', 838, 50, 19], ['a', 683, 70, 22, NAVY], ['b', 817, 112, 22, NAVY], ['Bulk', 758, 126, 17],
  ['Experiment', 636, 216, 16], ['Fit', 736, 217, 16],
  ['High splitting', 637, 250, 17.5], ['(Interface)', 623, 269, 17.5], ['4.95 eV', 743, 257, 17, '#1a1aee'], ['Mn 3<i>s</i>', 865, 253, 20, '#a8a8a8'],
  ['Low splitting', 634, 364, 17.5], ['(Bulk)', 605, 383, 17.5], ['4.76 eV', 743, 370, 17, '#1a1aee'],
  ['Difference × 13', 643, 482, 17],
  ['PES Intensity (arb. units)', 545, 400, 21, TEXT, -90], ['PES Intensity (arb. units)', 980, 400, 21, TEXT, -90],
  ['c', 1062, 46, 24, DGREEN], ['(Ni<sup>2+</sup>/Total Ni) ratio', 1247, 50, 19], ['Interface', 1103, 94, 17], ['d', 1189, 103, 26, DGREEN], ['Bulk', 1223, 130, 17],
  ['Experiment', 1072, 214, 17], ['Fit', 1167, 214, 17], ['Ni<sup>2+</sup>', 1233, 214, 17], ['Ni<sup>3+</sup>', 1302, 214, 17],
  ['At 13.35°', 1051, 249, 17], ['(Interface)', 1054, 269, 17], ['Ni<sup>3+</sup>', 1116, 282, 24, DGREEN], ['Ni<sup>2+</sup>', 1272, 282, 24, NAVY], ['Ni 3<i>p</i>', 1294, 253, 20, '#a8a8a8'],
  ['A', 1219, 296, 16, '#fff'], ['B', 1173, 315, 16, '#eef'], ['C', 1131, 324, 17], ['D', 1083, 334, 17],
  ['At 13.95°', 1052, 363, 17], ['(Bulk)', 1037, 383, 17], ['Ni<sup>3+</sup>', 1117, 399, 24, DGREEN], ['Ni<sup>2+</sup>', 1272, 399, 24, NAVY],
  ['(Bulk)', 1050, 481, 17, '#4a7a2a'], ['Ni<sup>2+</sup>', 1275, 487, 24, NAVY], ['Ni<sup>3+</sup>', 1115, 540, 24, DGREEN], ['Difference × 9', 1071, 566, 17], ['(Interface)', 1277, 562, 17, '#2020c8']
];
texts.forEach(function (t) {
  var d = document.createElement('div');
  d.className = 'lbl';
  d.innerHTML = t[0];
  d.style.left = t[1] + 'px';
  d.style.top = t[2] + 'px';
  d.style.fontSize = t[3] + 'px';
  d.style.color = t[4] || TEXT;
  d.style.transform = 'translate(-50%,-50%)' + (t[5] ? ' rotate(' + t[5] + 'deg)' : '');
  stage.appendChild(d);
});

// legend keys: [left, centre y, width, height, colour, round]
var keys = [
  [578, 216, 10, 10, '#8c8c8c', true], [694, 214.5, 24, 3, '#e6121c'],
  [1012, 214, 10, 10, '#8c8c8c', true], [1128, 214, 23, 3, '#e6121c'], [1189, 214, 23, 3, '#2f75b5'], [1255, 214, 23, 3, '#70ad47']
];
keys.forEach(function (k) {
  var d = document.createElement('div');
  d.className = 'mark';
  d.style.cssText += 'left:' + k[0] + 'px;top:' + (k[1] - k[3] / 2) + 'px;width:' + k[2] + 'px;height:' + k[3] + 'px;background:' + k[4] + ';' + (k[5] ? 'border-radius:50%;' : '');
  stage.appendChild(d);
});
</script>
</body>
</html>
